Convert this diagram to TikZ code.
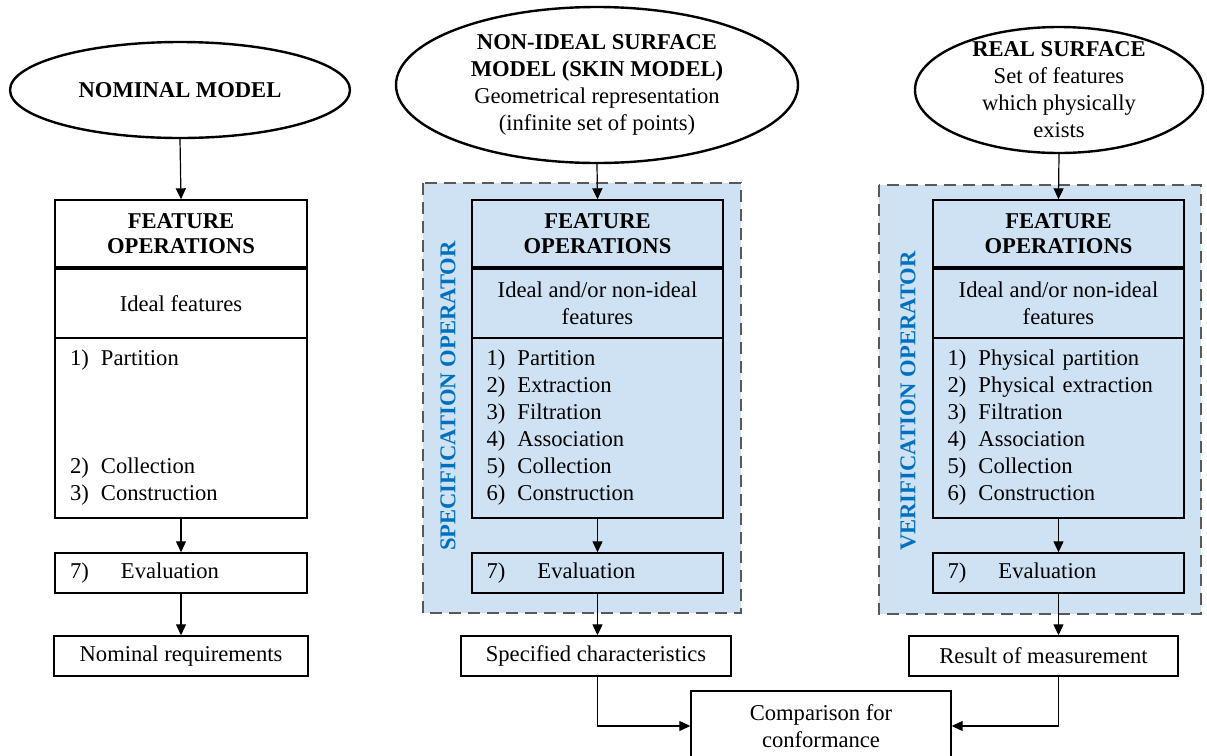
\documentclass[tikz,border=0pt]{standalone}
\usepackage{fontspec}
\setmainfont{Liberation Serif}
\usetikzlibrary{shapes.geometric,arrows.meta}
\definecolor{opfill}{RGB}{207,226,243}
\definecolor{opblue}{RGB}{0,112,192}
\definecolor{dashgray}{RGB}{89,89,89}
\newcommand{\figfont}{\fontsize{11.3}{13.5}\selectfont}
\newcommand{\itm}[2]{\makebox[15.5pt][l]{#1)}#2}
\newcommand{\evl}{\makebox[25.5pt][l]{7)}Evaluation}
\begin{document}
\begin{tikzpicture}[x=0.5pt,y=-0.5pt,
    every node/.style={font=\figfont},
    model/.style={ellipse,draw,line width=1.2pt,inner sep=0pt,align=center},
    box/.style={draw,line width=0.7pt,inner sep=0pt,align=center},
    head/.style={box,font=\fontsize{11.3}{12.5}\selectfont\bfseries,minimum height=33.5pt},
    idealbox/.style={box,minimum height=34.5pt},
    listbox/.style={box,align=left,text width=111pt},
    flow/.style={-{Triangle[length=5.5pt,width=5pt]},line width=0.6pt},
    opframe/.style={fill=opfill,draw=dashgray,line width=1.4pt,dash pattern=on 6pt off 3.5pt},
    oplabel/.style={rotate=90,text=opblue,font=\figfont\bfseries}]
    \useasboundingbox (0,0) rectangle (1207,756);
    % operator frames
    \draw[opframe] (423,183) rectangle (741,613);
    \draw[opframe] (879,185) rectangle (1201,614);
    \node[oplabel] (speclabel) at (448,396) {SPECIFICATION OPERATOR};
    \node[oplabel] (veriflabel) at (908,401) {VERIFICATION OPERATOR};
    % nominal model
    \node[model,minimum width=170pt,minimum height=48pt] (nom) at (180,90) {\textbf{NOMINAL MODEL}};
    \node[head,minimum width=126pt] (lfeat) at (181,233.5) {FEATURE\\OPERATIONS};
    \node[idealbox,minimum width=126pt] (lideal) at (181,303.5) {Ideal features};
    \node[listbox,minimum width=126pt,minimum height=90pt] (llist) at (181,428)
        {\itm{1}{Partition}\\\mbox{}\\\mbox{}\\\mbox{}\\\itm{2}{Collection}\\\itm{3}{Construction}};
    \node[listbox,minimum width=126pt,minimum height=20pt] (leval) at (181,573) {\evl};
    \node[box,minimum width=127pt,minimum height=20pt] (lreq) at (181,656) {Nominal requirements};
    % skin model
    \node[model,minimum width=201pt,minimum height=78pt] (skin) at (597,85)
        {\textbf{NON-IDEAL SURFACE}\\\textbf{MODEL (SKIN MODEL)}\\Geometrical representation\\(infinite set of points)};
    \node[head,minimum width=125.5pt] (mfeat) at (597.5,233.5) {FEATURE\\OPERATIONS};
    \node[idealbox,minimum width=125.5pt] (mideal) at (597.5,303.5) {Ideal and/or non-ideal\\features};
    \node[listbox,minimum width=125.5pt,minimum height=90pt] (mlist) at (597.5,428)
        {\itm{1}{Partition}\\\itm{2}{Extraction}\\\itm{3}{Filtration}\\\itm{4}{Association}\\\itm{5}{Collection}\\\itm{6}{Construction}};
    \node[listbox,minimum width=125.5pt,minimum height=20pt] (meval) at (597.5,573) {\evl};
    \node[box,minimum width=135pt,minimum height=20pt] (mchar) at (596,656) {Specified characteristics};
    % real surface
    \node[model,minimum width=144pt,minimum height=63pt,inner ysep=-8pt] (real) at (1059,90)
        {\textbf{REAL SURFACE}\\Set of features\\which physically\\exists};
    \node[head,minimum width=125.5pt] (rfeat) at (1058.5,233.5) {FEATURE\\OPERATIONS};
    \node[idealbox,minimum width=125.5pt] (rideal) at (1058.5,303.5) {Ideal and/or non-ideal\\features};
    \node[listbox,minimum width=125.5pt,minimum height=90pt] (rlist) at (1058.5,428)
        {\itm{1}{Physical partition}\\\itm{2}{Physical extraction}\\\itm{3}{Filtration}\\\itm{4}{Association}\\\itm{5}{Collection}\\\itm{6}{Construction}};
    \node[listbox,minimum width=125.5pt,minimum height=20pt] (reval) at (1058.5,573) {\evl};
    \node[box,minimum width=134.5pt,minimum height=20pt] (rres) at (1043.5,656) {Result of measurement};
    % comparison
    \node[box,minimum width=130pt,minimum height=35pt] (comp) at (821,726) {Comparison for\\conformance};
    % connectors
    \draw[flow] (nom.south) -- (lfeat.north);
    \draw[flow] (llist) -- (leval);
    \draw[flow] (leval) -- (lreq);
    \draw[flow] (skin.south) -- (mfeat.north);
    \draw[flow] (mlist) -- (meval);
    \draw[flow] (meval) -- (meval |- mchar.north);
    \draw[flow] (real.south) -- (rfeat.north);
    \draw[flow] (rlist) -- (reval);
    \draw[flow] (reval) -- (reval |- rres.north);
    \draw[flow] (mchar.south -| meval) |- (comp);
    \draw[flow] (rres.south -| reval) |- (comp);
\end{tikzpicture}
\end{document}
